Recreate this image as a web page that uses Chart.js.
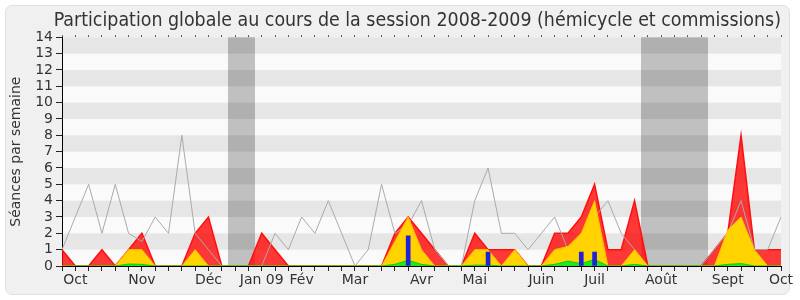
<!DOCTYPE html>
<html>
<head>
<meta charset="utf-8">
<script src="https://cdn.jsdelivr.net/npm/chart.js@4.4.1/dist/chart.umd.min.js"></script>
<style>
  html, body { margin: 0; padding: 0; background: #fff; }
  #frame { position: absolute; left: 5px; top: 5px; width: 783px; height: 288px;
           background: #f0f0f0; border: 1px solid #e0e0e0; border-radius: 7px; }
  #wrap { position: absolute; left: 0; top: 0; width: 800px; height: 300px; }
</style>
</head>
<body>
<div id="frame"></div>
<div id="wrap"><canvas id="chart" width="800" height="300"></canvas></div>
<script>
// one entry per week, Oct 2008 -> Oct 2009
const weekLabels = [
  '', 'Oct', '', '', '', '', 'Nov', '', '', '', '',
  'Déc', '', '', '', 'Jan 09', '', '', 'Fév', '', '',
  '', 'Mar', '', '', '', '', 'Avr', '', '', '',
  'Mai', '', '', '', '', 'Juin', '', '', '', 'Juil',
  '', '', '', '', 'Août', '', '', '', '', 'Sept',
  '', '', '', 'Oct'
];

// présences (red)
const presences = [
  1, 0, 0, 1, 0, 1, 2, 0, 0, 0, 2,
  3, 0, 0, 0, 2, 1, 0, 0, 0, 0,
  0, 0, 0, 0, 2, 3, 2, 1, 0, 0,
  2, 1, 1, 1, 0, 0, 2, 2, 3, 5,
  1, 1, 4, 0, 0, 0, 0, 0, 1, 2,
  8, 1, 1, 1
];

// participations (yellow)
const participations = [
  0, 0, 0, 0, 0, 1, 1, 0, 0, 0, 1,
  0, 0, 0, 0, 0, 0, 0, 0, 0, 0,
  0, 0, 0, 0, 1.5, 3, 1, 0, 0, 0,
  1, 1, 0, 1, 0, 0, 1, 1.2, 2, 4,
  0, 0, 1, 0, 0, 0, 0, 0, 0, 2.2,
  3, 1, 0, 0
];

// interventions (green)
const interventions = [
  0, 0, 0, 0, 0, 0.12, 0.1, 0, 0, 0, 0,
  0, 0, 0, 0, 0, 0, 0, 0, 0, 0,
  0, 0, 0, 0, 0.1, 0.35, 0.1, 0, 0, 0,
  0.05, 0.05, 0, 0, 0, 0, 0.1, 0.3, 0.15, 0.4,
  0, 0, 0.1, 0, 0, 0, 0, 0, 0, 0.1,
  0.15, 0, 0, 0
];

// médiane des députés (grey line)
const mediane = [
  1, 3, 5, 2, 5, 2, 1.5, 3, 2, 8, 2,
  1, 0, 0, 0, 0, 2, 1, 3, 2, 4,
  2, 0, 1, 5, 2, 2.5, 4, 1, 0, 0,
  4, 6, 2, 2, 1, 2, 3, 1, 2, 3,
  4, 2, 1, 0, 0, 0, 0, 0, 1, 2,
  4, 1, 1, 3
];

// questions orales (blue bars)
const questions = [
  null, null, null, null, null, null, null, null, null, null, null,
  null, null, null, null, null, null, null, null, null, null,
  null, null, null, null, null, 1.85, null, null, null, null,
  null, 0.85, null, null, null, null, null, null, 0.85, 0.85,
  null, null, null, null, null, null, null, null, null, null,
  null, null, null, null
];

// vacances parlementaires (weeks flagged 1)
const vacances = [
  0, 0, 0, 0, 0, 0, 0, 0, 0, 0, 0,
  0, 0, 1, 1, 0, 0, 0, 0, 0, 0,
  0, 0, 0, 0, 0, 0, 0, 0, 0, 0,
  0, 0, 0, 0, 0, 0, 0, 0, 0, 0,
  0, 0, 0, 1, 1, 1, 1, 1, 0, 0,
  0, 0, 0, 0
];

const stripes = {
  id: 'stripes',
  beforeDraw(chart) {
    const { ctx, chartArea: a, scales: { y } } = chart;
    ctx.save();
    ctx.fillStyle = '#fafafa';
    ctx.fillRect(a.left, a.top, a.width, a.height);
    ctx.fillStyle = '#e6e6e6';
    for (let v = 1; v < 14; v += 2) {
      const t = y.getPixelForValue(v + 1);
      const b = y.getPixelForValue(v);
      ctx.fillRect(a.left, t, a.width, b - t);
    }
    ctx.restore();
  },
  beforeDatasetsDraw(chart) {
    // shade each run of vacation weeks as one block
    const { ctx, chartArea: a, scales: { x } } = chart;
    ctx.save();
    ctx.fillStyle = 'rgba(0,0,0,0.23)';
    let start = -1;
    for (let i = 0; i <= vacances.length; i++) {
      const on = vacances[i] === 1;
      if (on && start < 0) start = i;
      if (!on && start >= 0) {
        const l = x.getPixelForValue(start - 0.5);
        const r = x.getPixelForValue(i - 0.5);
        ctx.fillRect(Math.round(l), a.top, Math.round(r) - Math.round(l), a.height);
        start = -1;
      }
    }
    ctx.restore();
  }
};

const line = (data, bg, border, bw, order) => ({
  type: 'line', data, backgroundColor: bg, borderColor: border, borderWidth: bw,
  fill: 'origin', pointRadius: 0, tension: 0, order
});

new Chart(document.getElementById('chart'), {
  data: {
    labels: weekLabels,
    datasets: [
      { type: 'bar', data: questions, backgroundColor: '#2121d6', barThickness: 4, grouped: false, order: 0 },
      line(interventions, '#22e622', '#10cc10', 1, 1),
      line(participations, '#ffd200', '#ffc000', 1, 2),
      { type: 'line', data: mediane, borderColor: '#aaaaaa', borderWidth: 1, fill: false,
        pointRadius: 0, tension: 0, order: 2.5 },
      line(presences, 'rgba(255,0,0,0.78)', '#ff1010', 1.5, 3)
    ]
  },
  options: {
    responsive: false,
    animation: false,
    devicePixelRatio: 1,
    layout: { padding: { left: 0, right: 19, top: 0, bottom: 0 } },
    plugins: {
      legend: { display: false },
      tooltip: { enabled: false },
      title: {
        display: true,
        align: 'end',
        text: 'Participation globale au cours de la session 2008-2009 (hémicycle et commissions)',
        color: '#333',
        font: { family: '"DejaVu Sans Condensed", "DejaVu Sans", sans-serif', size: 19.4, weight: 'normal' },
        padding: { top: 9.5, bottom: 2.5 }
      }
    },
    scales: {
      x: {
        type: 'category',
        offset: false,
        grid: { display: true, offset: false, drawOnChartArea: false, tickLength: 5, color: '#222' },
        border: { display: true, color: '#000' },
        ticks: { autoSkip: false, maxRotation: 0, padding: 1, color: '#333',
                 font: { family: '"DejaVu Sans", sans-serif', size: 14 } },
        afterFit(s) { s.height = 34; }
      },
      x2: {
        type: 'category',
        position: 'top',
        labels: weekLabels,
        offset: false,
        grid: { display: true, offset: false, drawOnChartArea: false, tickLength: 2, color: '#444' },
        border: { display: false },
        ticks: { display: false },
        afterFit(s) { s.height = 2; }
      },
      y: {
        min: 0,
        max: 14,
        ticks: { stepSize: 1, autoSkip: false, padding: 3, color: '#333',
                 font: { family: '"DejaVu Sans", sans-serif', size: 14 } },
        grid: { drawOnChartArea: false, tickLength: 6, color: '#222' },
        border: { display: true, color: '#000' },
        title: { display: true, text: 'Séances par semaine', color: '#333', padding: { top: 8, bottom: 0 },
                 font: { family: '"DejaVu Sans", sans-serif', size: 14 } },
        afterFit(s) { s.width = 62; }
      }
    }
  },
  plugins: [stripes]
});
</script>
</body>
</html>
